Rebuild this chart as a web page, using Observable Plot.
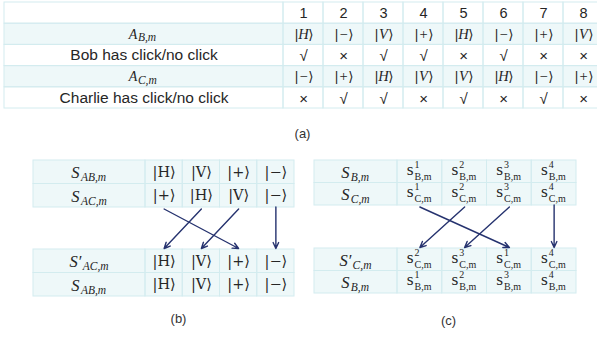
<!DOCTYPE html>
<html><head><meta charset="utf-8">
<script src="https://cdn.jsdelivr.net/npm/d3@7"></script>
<script src="https://cdn.jsdelivr.net/npm/@observablehq/plot@0.6"></script>
<style>body{margin:0;background:#fff}</style>
</head><body><div id="chart"></div>
<script>
// ---------- data ----------
// (a)
const aHeader = ["1","2","3","4","5","6","7","8"];
const aBobStates = ["H","−","V","+","H","−","+","V"];
const aBobClick = ["√","×","√","√","×","√","×","×"];
const aCharlieStates = ["−","+","H","V","V","H","−","+"];
const aCharlieClick = ["×","√","√","×","√","×","√","×"];
const aLabelText = ["", "", "Bob has click/no click", "", "Charlie has click/no click"];
const aLabelBase = ["", "A", "", "A", ""];
const aLabelSub = ["", "B,m", "", "C,m", ""];
// (b)
const bTopBase = ["S","S"], bTopSup = ["",""], bTopSub = ["AB,m","AC,m"];
const bTopRow1 = ["H","V","+","−"];
const bTopRow2 = ["+","H","V","−"];
const bBotBase = ["S","S"], bBotSup = ["′",""], bBotSub = ["AC,m","AB,m"];
const bBotRow1 = ["H","V","+","−"];
const bBotRow2 = ["H","V","+","−"];
// (c)
const cTopBase = ["S","S"], cTopSup = ["",""], cTopSub = ["B,m","C,m"];
const cTopRow1 = [1,2,3,4], cTopRow1Sub = "B,m";
const cTopRow2 = [1,2,3,4], cTopRow2Sub = "C,m";
const cBotBase = ["S","S"], cBotSup = ["′",""], cBotSub = ["C,m","B,m"];
const cBotRow1 = [2,3,1,4], cBotRow1Sub = "C,m";
const cBotRow2 = [1,2,3,4], cBotRow2Sub = "B,m";
const panelLabels = ["(a)","(b)","(c)"];

// ---------- layout ----------
const W = 597, H = 339;
const SANS = "Liberation Sans, Arial, sans-serif";
const SERIF = "Liberation Serif, DejaVu Serif, serif";
const KET = "DejaVu Serif, serif";
const TINT = "#eef8f9", GRID = "#d3ecef", INK = "#262626", ARROW = "#26336f";
const LA = {x0:4, labelW:279, colW:40, y0:2, rowH:21.2};
const LB = {x0:33, labelW:112, colW:37.25, yTop:160, yBot:249, rowH:23.5};
const LC = {x0:314, labelW:83, colW:44.75, yTop:160, yBot:248, rowH:22.5};
const panelPos = [[302,133],[178,318],[448,320]];

const cells = [], texts = [], arrows = [];
function T(x, y, text, o = {}) {
  texts.push({x, y, text, family: o.family || SANS, size: o.size || 13,
    style: o.style || "normal", anchor: o.anchor || "middle", fill: o.fill || INK, lh: o.lh || 1});
}
function cell(x1, x2, y1, y2, tint) { cells.push({x1, x2, y1, y2, tint}); }
// base symbol followed by a superscript / subscript (stacked in one text element)
function mathLabel(cx, cy, base, sup, sub, o) {
  let baseW = o.bs * o.bw;
  if (sup === "′") { base = base + "′"; baseW += o.bs * 0.22; sup = ""; }
  const subW = Math.max(sub.length, sup.length) * o.ss * o.cw;
  const start = cx - (baseW + o.gap + subW) / 2;
  T(start, cy + o.by, base, {family: o.fam, size: o.bs, style: o.st, anchor: "start"});
  const sx = start + baseW + o.gap;
  if (sup && sub) {
    const lh = Math.round((o.sy - o.py) / o.ss * 100) / 100;
    T(sx, cy + (o.sy + o.py) / 2, sup + "\n" + sub, {family: o.fam, size: o.ss, style: o.st, anchor: "start", lh});
  } else if (sub) {
    T(sx, cy + o.sy, sub, {family: o.fam, size: o.ss, style: o.st, anchor: "start"});
  }
}
function ketSplit(cx, cy, s, size) {
  const lw = size * 0.62;
  T(cx - lw / 2 - 0.5, cy, "|", {family: KET, size, anchor: "end"});
  T(cx, cy, s, {family: SERIF, size: size + 1, style: (s === "H" || s === "V") ? "italic" : "normal"});
  T(cx + lw / 2 + 0.5, cy, "⟩", {family: KET, size, anchor: "start"});
}

// (a)
{
  const rows = [aHeader, aBobStates, aBobClick, aCharlieStates, aCharlieClick];
  rows.forEach((row, r) => {
    const y1 = LA.y0 + r * LA.rowH, y2 = y1 + LA.rowH, cy = (y1 + y2) / 2;
    const tint = r === 1 || r === 3;
    cell(LA.x0, LA.x0 + LA.labelW, y1, y2, tint);
    const lcx = LA.x0 + LA.labelW / 2;
    if (aLabelText[r]) T(lcx, cy, aLabelText[r], {size: 15.5});
    if (aLabelBase[r]) mathLabel(lcx, cy, aLabelBase[r], "", aLabelSub[r],
      {bs: 14, ss: 11.5, bw: 0.62, cw: 0.62, gap: 0.5, by: 0, sy: 3.5, py: -5, fam: SERIF, st: "italic"});
    row.forEach((v, i) => {
      const x1 = LA.x0 + LA.labelW + i * LA.colW, cx = x1 + LA.colW / 2;
      cell(x1, x1 + LA.colW, y1, y2, tint);
      if (r === 0) T(cx, cy, v, {size: 14.5});
      else if (r === 1 || r === 3) ketSplit(cx, cy, v, 13.5);
      else T(cx, cy + 1, v, {size: 15});
    });
  });
}
// (b) and (c)
function smallTable(L, y0, bases, sups, subs, rows, drawCell, mathOpt) {
  rows.forEach((row, r) => {
    const y1 = y0 + r * L.rowH, y2 = y1 + L.rowH, cy = (y1 + y2) / 2;
    cell(L.x0, L.x0 + L.labelW, y1, y2, true);
    mathLabel(L.x0 + L.labelW / 2, cy, bases[r], sups[r], subs[r], mathOpt);
    row.forEach((v, i) => {
      const x1 = L.x0 + L.labelW + i * L.colW;
      cell(x1, x1 + L.colW, y1, y2, true);
      drawCell(x1 + L.colW / 2, cy, v, r);
    });
  });
}
const bMath = {bs: 16.5, ss: 11.5, bw: 0.52, cw: 0.58, gap: 1, by: 0.5, sy: 5.5, py: -4, fam: SERIF, st: "italic"};
const ketB = (cx, cy, v) => T(cx, cy, "|" + v + "⟩", {family: KET, size: 14.5});
smallTable(LB, LB.yTop, bTopBase, bTopSup, bTopSub, [bTopRow1, bTopRow2], ketB, bMath);
smallTable(LB, LB.yBot, bBotBase, bBotSup, bBotSub, [bBotRow1, bBotRow2], ketB, bMath);
const cSubs = [[cTopRow1Sub, cTopRow2Sub], [cBotRow1Sub, cBotRow2Sub]];
function sCell(k) {
  return (cx, cy, v, r) => mathLabel(cx, cy, "s", String(v), cSubs[k][r],
    {bs: 17.5, ss: 10, bw: 0.39, cw: 0.62, gap: 1, by: -2.5, sy: 4, py: -8, fam: SERIF, st: "normal"});
}
smallTable(LC, LC.yTop, cTopBase, cTopSup, cTopSub, [cTopRow1, cTopRow2], sCell(0), bMath);
smallTable(LC, LC.yBot, cBotBase, cBotSup, cBotSub, [cBotRow1, cBotRow2], sCell(1), bMath);

// arrows: from each value of the upper second row to its place in the re-ordered row
function addArrows(L, from, to) {
  const yA = L.yTop + 2 * L.rowH + 1.5, yB = L.yBot - 1;
  from.forEach((v, i) => {
    const j = to.indexOf(v);
    const cxA = L.x0 + L.labelW + (i + 0.5) * L.colW;
    const cxB = L.x0 + L.labelW + (j + 0.5) * L.colW;
    arrows.push({x1: cxA, y1: i === j ? yA - 2 : yA, x2: cxB, y2: yB});
  });
}
addArrows(LB, bTopRow2, bBotRow1);
addArrows(LC, cTopRow2, cBotRow1);

panelLabels.forEach((p, i) => T(panelPos[i][0], panelPos[i][1], p, {size: 13, fill: "#333"}));

// group texts by style
const groups = d3.groups(texts, d => [d.family, d.style, d.anchor, d.fill, d.lh].join("|"));
const textMarks = groups.map(([k, data]) => {
  const [family, style, anchor, fill, lh] = k.split("|");
  return Plot.text(data, {x: "x", y: "y", text: "text", fontSize: "size",
    fontFamily: family, fontStyle: style, textAnchor: anchor, fill, lineHeight: +lh});
});

const chart = Plot.plot({
  width: W, height: H, margin: 0,
  x: {domain: [0, W], range: [0, W], axis: null},
  y: {domain: [0, H], range: [0, H], axis: null},
  style: {background: "#fff", overflow: "hidden"},
  marks: [
    Plot.rect(cells.filter(d => d.tint), {x1: "x1", x2: "x2", y1: "y1", y2: "y2", fill: TINT}),
    Plot.rect(cells, {x1: "x1", x2: "x2", y1: "y1", y2: "y2", fill: "none", stroke: GRID, strokeWidth: 1}),
    Plot.arrow(arrows, {x1: "x1", y1: "y1", x2: "x2", y2: "y2", stroke: ARROW, strokeWidth: 1.4, headLength: 7, headAngle: 50}),
    ...textMarks
  ]
});
document.getElementById("chart").append(chart);
</script>
</body></html>
